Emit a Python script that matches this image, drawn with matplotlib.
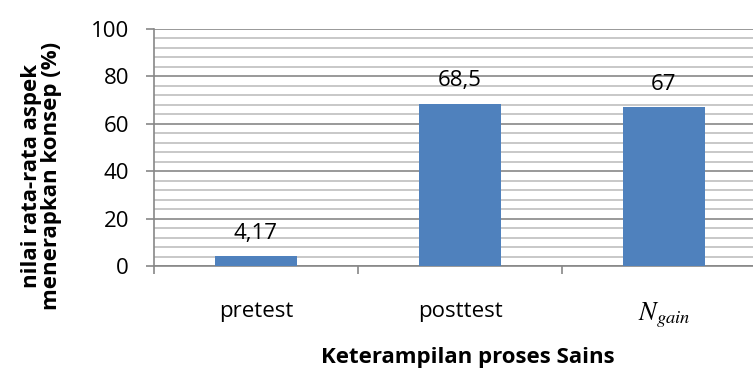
import numpy as np
import matplotlib.pyplot as plt

# Data
kategori = ['pretest', 'posttest', r'$N_{gain}$']
nilai = [4.17, 68.5, 67]
label_nilai = ['4,17', '68,5', '67']

plt.rcParams['font.family'] = ['Open Sans', 'DejaVu Sans']
plt.rcParams['mathtext.fontset'] = 'stix'

fig = plt.figure(figsize=(7.53, 3.72), dpi=100)
ax = fig.add_axes([154 / 753, 106 / 372, 612 / 753, 237 / 372])

x = np.arange(len(kategori))
ax.bar(x, nilai, width=0.4, color='#4F81BD', zorder=3)

for xi, v, lab in zip(x, nilai, label_nilai):
    ax.annotate(lab, (xi, v), xytext=(0, 9), textcoords='offset points',
                ha='center', va='bottom', fontsize=16)

ax.set_xlim(-0.5, 2.5)
ax.set_ylim(0, 100)
ax.set_yticks(np.arange(0, 101, 20))
ax.set_yticks(np.arange(0, 101, 4), minor=True)
ax.yaxis.grid(True, which='major', color='#878787', linewidth=1.2, zorder=0)
ax.yaxis.grid(True, which='minor', color='#BFBFBF', linewidth=1.2, zorder=0)
ax.tick_params(axis='y', which='minor', length=0)
ax.tick_params(axis='y', which='major', length=6, width=1.2, color='#878787',
               labelsize=16, pad=12)

ax.set_xticks(np.arange(-0.5, 2.6, 1))
ax.set_xticklabels([])
ax.set_xticks(x, minor=True)
ax.set_xticklabels(kategori, minor=True, fontsize=16)
ax.tick_params(axis='x', which='minor', length=0, pad=25)
ax.xaxis.get_minorticklabels()[2].set_fontsize(19)
ax.tick_params(axis='x', which='major', length=6, width=1.2, color='#878787')

for s in ['top', 'right']:
    ax.spines[s].set_visible(False)
for s in ['left', 'bottom']:
    ax.spines[s].set_color('#878787')
    ax.spines[s].set_linewidth(1.2)

ax.set_ylabel('nilai rata-rata aspek\nmenerapkan konsep (%)', fontsize=16,
              fontweight='bold', linespacing=0.95)
ax.yaxis.set_label_coords(-0.15, 0.38)
fig.text(468 / 753, 1 - 357 / 372, 'Keterampilan proses Sains', ha='center',
         va='center', fontsize=16, fontweight='bold')

plt.savefig('out.png', dpi=100)
